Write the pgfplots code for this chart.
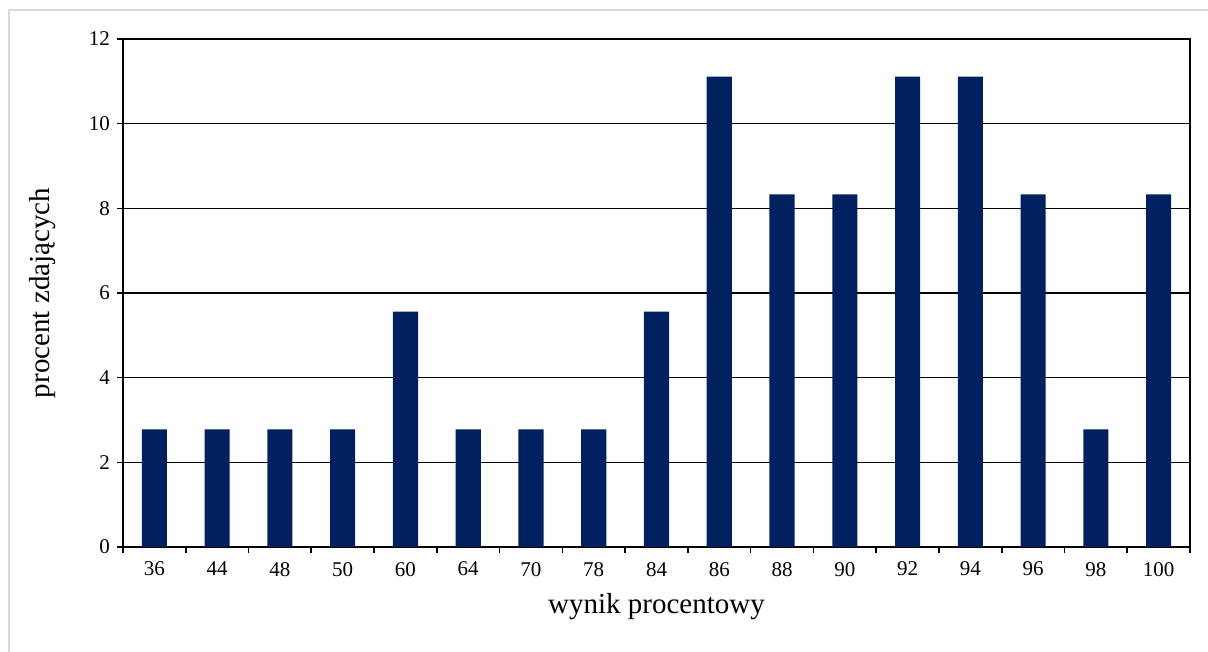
\documentclass[border=0pt]{standalone}
\usepackage{fontspec}
\setmainfont{Liberation Serif}
\usepackage{pgfplots}
\pgfplotsset{compat=1.18}
\definecolor{barnavy}{RGB}{0,32,96}
\definecolor{framegray}{RGB}{217,217,217}
\begin{document}
\begin{tikzpicture}
\useasboundingbox (0,0) rectangle (604pt,326pt);
\fill[white] (0,0) rectangle (604pt,326pt);
\draw[framegray, line width=0.8pt] (4.5pt,-10pt) rectangle (620pt,321pt);
\begin{axis}[
  at={(61.5pt,52.5pt)}, anchor=south west,
  scale only axis, width=533.5pt, height=254pt,
  xmin=-0.5, xmax=16.5, ymin=0, ymax=12,
  axis line style={line width=1pt, black},
  ytick={0,2,...,12},
  ymajorgrids, grid style={black, line width=0.7pt},
  xtick={0,...,16},
  xticklabels={36,44,48,50,60,64,70,78,84,86,88,90,92,94,96,98,100},
  minor xtick={-0.5,0.5,...,16.5},
  major x tick style={draw=none},
  minor tick length=3pt, major tick length=3pt,
  tick align=outside, tick pos=left,
  tick style={black, line width=0.8pt},
  /pgf/number format/assume math mode=true,
  ticklabel style={font=\fontsize{10.5}{12}\selectfont},
  xticklabel style={yshift=-1pt},
  xlabel={wynik procentowy}, ylabel={procent zdających},
  label style={font=\fontsize{14.5}{17}\selectfont},
  xlabel style={at={(axis description cs:0.5,0)}, anchor=center, yshift=-30pt},
  ylabel style={at={(axis description cs:0,0.5)}, anchor=center, xshift=0pt, yshift=40pt},
  axis on top=false,
]
\addplot[ybar, bar width=0.4, fill=barnavy, draw=none] coordinates {
(0,2.78) (1,2.78) (2,2.78) (3,2.78) (4,5.56) (5,2.78) (6,2.78) (7,2.78) (8,5.56)
(9,11.11) (10,8.33) (11,8.33) (12,11.11) (13,11.11) (14,8.33) (15,2.78) (16,8.33)
};
\end{axis}
\end{tikzpicture}
\end{document}
